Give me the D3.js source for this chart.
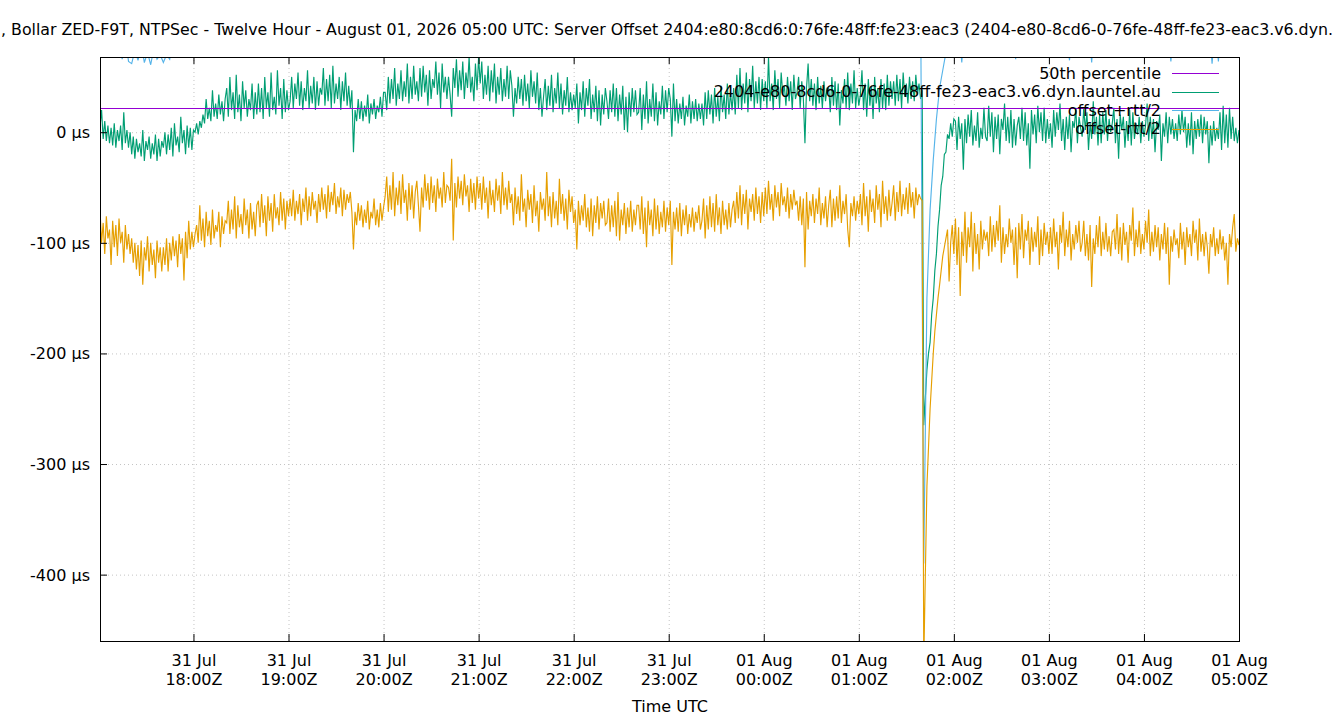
<!DOCTYPE html>
<html><head><meta charset="utf-8">
<script src="https://cdn.jsdelivr.net/npm/d3@7"></script>
<style>
body{margin:0;background:#fff}
svg{display:block}
text{font-family:"DejaVu Sans",sans-serif}
</style>
</head><body>
<svg id="chart" width="1340" height="720"></svg>
<script>
// ---------- data ----------
const titleText = ", Bollar ZED-F9T, NTPSec - Twelve Hour - August 01, 2026 05:00 UTC: Server Offset 2404:e80:8cd6:0:76fe:48ff:fe23:eac3 (2404-e80-8cd6-0-76fe-48ff-fe23-eac3.v6.dyn.";
const xAxisTitle = "Time UTC";
const seriesNames = ["50th percentile", "2404-e80-8cd6-0-76fe-48ff-fe23-eac3.v6.dyn.launtel.au", "offset+rtt/2", "offset-rtt/2"];
const xTickDates = ["2026-07-31T18:00:00Z","2026-07-31T19:00:00Z","2026-07-31T20:00:00Z","2026-07-31T21:00:00Z","2026-07-31T22:00:00Z","2026-07-31T23:00:00Z","2026-08-01T00:00:00Z","2026-08-01T01:00:00Z","2026-08-01T02:00:00Z","2026-08-01T03:00:00Z","2026-08-01T04:00:00Z","2026-08-01T05:00:00Z"];
const xTickDayLabels = ["31 Jul","31 Jul","31 Jul","31 Jul","31 Jul","31 Jul","01 Aug","01 Aug","01 Aug","01 Aug","01 Aug","01 Aug"];
const xTickHourLabels = ["18:00Z","19:00Z","20:00Z","21:00Z","22:00Z","23:00Z","00:00Z","01:00Z","02:00Z","03:00Z","04:00Z","05:00Z"];
const yTickValues = [0, -100, -200, -300, -400];
const yTickLabels = ["0 µs", "-100 µs", "-200 µs", "-300 µs", "-400 µs"];
const xDomain = ["2026-07-31T17:01:00Z", "2026-08-01T05:00:00Z"];
const yDomain = [-460, 68];
const sampleStart = "2026-07-31T17:01:00Z";
const offsetStepMinutes = 1;   // offset and offset-rtt/2 samples
const plusStepMinutes = 2;     // offset+rtt/2 samples
const percentile50 = [22];

// offset (µs), one value per minute
const offsetValues = [
 5, 20, -6, 10, -8, 6, -10, 4, -12, 8, -14, 2, -8, 6, -16, 18, -10, 2, -14, 0,
 -20, -4, -24, -6, -18, -10, -22, 2, -26, -8, -16, -4, -24, -10, -20, -2, -26, -6, -22, -8,
 -14, 0, -20, -2, -16, 4, -22, 8, -12, -4, -18, 14, -10, 2, -20, 6, -14, 4, -16, 2,
 0, 8, -2, 10, 4, 16, 8, 30, 12, 22, 10, 38, 14, 26, 12, 34, 16, 28, 10, 30,
 40, 14, 50, 20, 36, 12, 52, 18, 34, 10, 46, 22, 38, 14, 30, 20, 44, 12, 36, 16,
 44, 18, 40, 12, 50, 22, 36, 14, 54, 20, 32, 16, 56, 24, 40, 12, 48, 18, 38, 20,
 28, 50, 22, 44, 30, 54, 24, 46, 20, 40, 28, 56, 22, 42, 26, 50, 20, 46, 24, 40,
 34, 58, 24, 48, 28, 52, 22, 60, 26, 44, 30, 50, 20, 46, 28, 54, 24, 42, 22, 38,
 -18, 20, 10, 30, 12, 28, 10, 24, 14, 34, 8, 26, 16, 30, 12, 24, 18, 32, 14, 36,
 36, 20, 50, 26, 48, 30, 58, 24, 44, 30, 56, 28, 46, 32, 62, 26, 50, 30, 60, 34,
 46, 28, 58, 32, 60, 36, 52, 24, 56, 30, 48, 40, 64, 34, 54, 22, 62, 36, 50, 30,
 50, 34, 14, 58, 40, 66, 32, 56, 38, 64, 30, 54, 40, 68, 36, 50, 28, 62, 38, 68,
 44, 64, 30, 52, 34, 60, 28, 56, 36, 62, 26, 50, 34, 58, 28, 48, 32, 60, 30, 56,
 42, 14, 40, 26, 50, 30, 48, 24, 52, 28, 44, 22, 56, 32, 46, 26, 54, 20, 40, 14,
 32, 48, 20, 42, 24, 52, 18, 40, 26, 54, 22, 44, 16, 38, 24, 50, 18, 36, 20, 34,
 22, 44, 8, 36, 20, 46, 14, 40, 24, 48, 12, 34, 18, 42, 10, 38, 6, 34, 16, 40,
 28, 12, 38, 18, 44, 14, 40, 10, 34, 16, 42, 2, 32, 0, 36, 14, 40, 18, 38, 16,
 18, 40, 2, 34, 12, 46, 8, 30, 14, 44, 10, 36, 6, 28, 16, 42, 12, 38, 18, 40,
 30, -4, 44, 10, 30, 8, 26, 12, 32, 6, 24, 14, 34, 8, 28, 12, 30, 10, 26, 12,
 26, 6, 36, 12, 38, 16, 34, 8, 40, 14, 32, 10, 42, 18, 34, 12, 44, 16, 36, 20,
 40, 16, 52, 22, 58, 20, 44, 26, 54, 18, 48, 28, 60, 22, 46, 26, 50, 20, 48, 28,
 46, 22, 68, 28, 44, 20, 56, 30, 48, 22, 54, 34, 42, 24, 50, 28, 46, 20, 52, 30,
 36, 50, 22, 46, 30, -10, 40, 62, 28, 48, 24, 44, 20, 50, 26, 42, 22, 46, 28, 40,
 40, 18, 50, 24, 46, 20, 44, 6, 38, 26, 48, 22, 54, 20, 44, 26, 56, 22, 40, 24,
 34, 56, 20, 44, 14, 48, 24, 42, 12, 50, 26, 40, 18, 48, 22, 44, 20, 52, 24, 46,
 30, 46, 24, 52, 28, 48, 22, 54, 32, 44, 26, 50, 30, 46, 28, 52, 34, 44, 30, 38,
 -265, -240, -215, -200, -190, -165, -150, -125, -110, -85, -70, -48, -40, -20, -18, -2, -6, 8, -4, 12,
 10, -16, 14, -6, 8, -34, 12, -10, 16, -4, 20, -12, 6, -8, 18, -14, 4, -6, 22, -4,
 -8, 24, -4, 18, -18, 14, -6, 16, -20, 12, 2, 26, -8, 14, -10, 20, -14, 12, -12, 6,
 14, -6, 22, -8, 18, -12, 8, -33, 20, -2, 16, -10, 24, 0, 18, -8, 22, -10, 12, -6,
 8, -14, 20, -4, 18, 2, 26, -8, 12, -16, 14, -6, 16, -18, 10, 4, 22, -10, 14, 4,
 -4, 22, 2, 18, -16, 8, -6, 28, -2, 14, -12, 16, -10, 18, -2, 20, -8, 12, 0, 8,
 22, -10, 12, -24, 16, 2, 14, -14, 10, -8, 20, -12, 18, -6, 8, -2, 14, -10, 10, -4,
 6, 26, -8, 14, -6, 12, -18, 10, 2, 16, -26, 8, -4, 18, -10, 14, -2, 12, -6, 8,
 -8, 16, -2, 20, 0, 14, -14, 8, -12, 18, -20, 10, -6, 12, -4, 16, -10, 14, -2, 10,
 -28, 6, -12, 10, -8, 4, -6, 18, -16, 24, -10, 16, -14, 22, -6, 14, -8, 4, -10, 2
];

// offset+rtt/2 (µs), one value per two minutes
const plusValues = [
 96, 88, 102, 92, 84, 98, 90, 66, 86, 64,
 62, 74, 65, 80, 63, 72, 61, 76, 66, 70,
 63, 70, 66, 84, 90, 96, 88, 100, 94, 104,
 96, 104, 100, 112, 126, 108, 134, 112, 124, 110,
 136, 114, 148, 118, 130, 110, 142, 120, 126, 112,
 140, 116, 132, 110, 146, 122, 128, 114, 150, 118,
 124, 146, 120, 140, 128, 150, 122, 136, 118, 142,
 130, 154, 122, 144, 126, 148, 120, 140, 124, 134,
 92, 112, 126, 108, 120, 114, 124, 110, 118, 130,
 128, 114, 142, 124, 150, 122, 138, 126, 154, 128,
 138, 122, 150, 128, 144, 116, 140, 132, 154, 126,
 142, 128, 106, 152, 132, 158, 124, 146, 130, 160,
 136, 156, 122, 144, 128, 150, 120, 140, 126, 148,
 134, 106, 128, 122, 142, 118, 136, 124, 148, 108,
 124, 140, 116, 132, 112, 144, 120, 128, 110, 122,
 114, 134, 100, 128, 118, 138, 110, 122, 98, 126,
 120, 106, 130, 112, 136, 102, 124, 92, 116, 128,
 110, 132, 94, 122, 106, 138, 102, 118, 112, 130,
 122, 90, 136, 104, 116, 100, 112, 122, 102, 114,
 118, 98, 126, 106, 130, 110, 122, 102, 134, 112,
 132, 108, 144, 116, 150, 112, 128, 120, 140, 122,
 138, 116, 160, 122, 132, 114, 146, 126, 120, 136,
 128, 142, 118, 82, 154, 122, 136, 112, 130, 120,
 132, 110, 142, 118, 136, 98, 128, 122, 146, 116,
 126, 148, 114, 134, 104, 140, 120, 130, 112, 138,
 122, 136, 116, 144, 128, 120, 140, 124, 132, 128,
 -390, -150, -70, -25, 12, 40, 56, 72, 90, 100,
 86, 98, 63, 104, 92, 110, 88, 100, 94, 106,
 96, 108, 90, 102, 114, 94, 100, 88, 104, 66,
 98, 110, 92, 104, 96, 112, 100, 90, 106, 94,
 102, 94, 108, 98, 112, 90, 65, 100, 96, 106,
 94, 104, 98, 63, 110, 92, 100, 106, 96, 102,
 100, 92, 108, 96, 104, 112, 94, 100, 90, 106,
 98, 106, 92, 110, 100, 94, 104, 96, 64, 102,
 96, 108, 100, 92, 104, 98, 112, 94, 102, 106,
 100, 62, 96, 64, 108, 94, 102, 98, 106, 92
];

// offset-rtt/2 (µs), one value per minute
const minusValues = [
 -70, -100, -82, -110, -76, -96, -88, -120, -80, -104, -84, -112, -78, -100, -90, -118, -84, -106, -92, -110,
 -96, -118, -100, -124, -102, -130, -98, -138, -104, -116, -94, -126, -100, -120, -106, -132, -98, -118, -104, -126,
 -104, -120, -96, -126, -100, -116, -94, -112, -98, -122, -92, -110, -96, -134, -90, -114, -80, -106, -90, -104,
 -92, -84, -100, -66, -98, -78, -104, -72, -94, -80, -102, -70, -96, -84, -90, -72, -104, -76, -92, -80,
 -82, -62, -92, -70, -88, -58, -96, -66, -86, -74, -92, -60, -84, -70, -96, -64, -88, -72, -94, -66,
 -62, -86, -56, -82, -66, -94, -58, -80, -64, -90, -56, -78, -68, -84, -54, -80, -60, -88, -62, -76,
 -60, -76, -52, -80, -62, -74, -56, -84, -60, -72, -50, -80, -58, -76, -54, -70, -62, -82, -56, -72,
 -50, -70, -56, -78, -48, -72, -54, -66, -46, -74, -58, -68, -50, -76, -52, -70, -56, -64, -54, -72,
 -106, -72, -84, -64, -80, -66, -86, -70, -82, -62, -88, -72, -78, -60, -84, -70, -86, -64, -80, -68,
 -58, -40, -72, -48, -70, -36, -76, -50, -66, -44, -74, -38, -64, -52, -80, -46, -70, -48, -78, -54,
 -44, -66, -90, -50, -68, -38, -62, -46, -70, -40, -64, -48, -72, -42, -60, -50, -68, -36, -64, -48,
 -50, -62, -24, -98, -46, -68, -40, -60, -44, -66, -38, -58, -48, -72, -42, -64, -46, -70, -40, -60,
 -46, -70, -40, -64, -50, -78, -44, -66, -52, -72, -42, -62, -48, -74, -36, -66, -50, -70, -44, -64,
 -56, -84, -50, -74, -58, -80, -38, -72, -60, -86, -52, -70, -56, -82, -48, -76, -62, -90, -54, -70,
 -60, -80, -36, -76, -58, -86, -54, -78, -62, -84, -42, -74, -56, -80, -60, -88, -52, -72, -58, -82,
 -70, -106, -62, -84, -66, -80, -56, -86, -68, -90, -60, -94, -66, -82, -58, -88, -64, -78, -62, -84,
 -82, -60, -90, -66, -86, -62, -94, -54, -98, -70, -84, -64, -92, -68, -86, -62, -90, -70, -84, -66,
 -66, -88, -58, -92, -68, -104, -62, -84, -70, -94, -60, -88, -66, -92, -72, -86, -62, -90, -68, -84,
 -62, -120, -72, -88, -68, -90, -64, -94, -70, -84, -66, -92, -74, -86, -68, -90, -72, -82, -66, -88,
 -80, -60, -96, -66, -88, -58, -86, -64, -90, -56, -84, -68, -92, -62, -84, -70, -88, -64, -86, -70,
 -62, -82, -54, -78, -48, -84, -56, -74, -52, -88, -60, -72, -56, -80, -50, -74, -58, -82, -54, -76,
 -50, -74, -44, -70, -56, -80, -48, -68, -54, -76, -46, -66, -58, -72, -50, -78, -56, -70, -52, -66,
 -62, -80, -58, -84, -60, -122, -54, -88, -62, -76, -56, -82, -60, -74, -50, -84, -64, -78, -58, -86,
 -66, -52, -86, -60, -80, -58, -78, -48, -82, -62, -74, -56, -88, -104, -64, -76, -58, -80, -62, -74,
 -56, -84, -46, -76, -58, -90, -52, -72, -60, -82, -48, -70, -56, -86, -44, -74, -58, -80, -52, -76,
 -64, -48, -80, -54, -72, -44, -76, -56, -70, -50, -74, -46, -68, -54, -78, -50, -66, -56, -60, -62,
 -480, -400, -320, -285, -250, -225, -200, -180, -165, -150, -138, -125, -112, -104, -96, -88, -135, -100, -84, -110,
 -78, -120, -86, -148, -90, -112, -72, -118, -86, -104, -72, -126, -82, -110, -92, -124, -80, -106, -88, -98,
 -90, -112, -76, -108, -84, -104, -80, -98, -66, -118, -86, -110, -92, -104, -78, -100, -88, -120, -86, -132,
 -82, -106, -74, -114, -88, -98, -80, -120, -86, -108, -90, -104, -76, -120, -88, -112, -82, -102, -90, -110,
 -86, -110, -78, -104, -90, -124, -84, -100, -72, -112, -88, -104, -80, -116, -92, -106, -84, -100, -80, -108,
 -100, -80, -112, -92, -116, -84, -140, -96, -110, -84, -104, -76, -112, -90, -106, -82, -108, -94, -112, -90,
 -88, -106, -74, -110, -86, -116, -82, -102, -90, -118, -84, -98, -68, -112, -88, -104, -80, -110, -92, -106,
 -80, -100, -70, -112, -90, -108, -84, -104, -86, -116, -92, -106, -82, -110, -86, -138, -94, -108, -88, -102,
 -96, -114, -82, -106, -90, -120, -86, -104, -92, -112, -80, -100, -88, -116, -78, -108, -92, -112, -90, -104,
 -128, -92, -104, -86, -112, -96, -110, -88, -106, -94, -116, -100, -138, -92, -104, -86, -74, -108, -96, -102
];

// ---------- styles ----------
const colPct = "#9400d3", colOffset = "#009e73", colPlus = "#56b4e9", colMinus = "#e69f00";
const legendColors = [colPct, colOffset, colPlus, colMinus];
const plot = {left: 100, right: 1239, top: 57, bottom: 641};
const FONT = 16;
const LW = 1.15;

// ---------- chart ----------
const svg = d3.select("#chart");
const x = d3.scaleUtc().domain(xDomain.map(d => new Date(d))).range([plot.left, plot.right]);
const y = d3.scaleLinear().domain(yDomain).range([plot.bottom, plot.top]);
const t0 = new Date(sampleStart).getTime();
const tickDates = xTickDates.map(d => new Date(d));

// grid
const gx = svg.append("g").attr("transform", `translate(0,${plot.bottom})`)
  .call(d3.axisBottom(x).tickValues(tickDates).tickSize(-(plot.bottom - plot.top)).tickFormat(""));
gx.select(".domain").remove();
gx.selectAll("line").attr("stroke", "#c4c4c4").attr("stroke-dasharray", "1,3");
const gy = svg.append("g").attr("transform", `translate(${plot.left},0)`)
  .call(d3.axisLeft(y).tickValues(yTickValues).tickSize(-(plot.right - plot.left)).tickFormat(""));
gy.select(".domain").remove();
gy.selectAll("line").attr("stroke", "#c4c4c4").attr("stroke-dasharray", "1,3");

// clip
svg.append("clipPath").attr("id", "clip").append("rect")
  .attr("x", plot.left).attr("y", plot.top)
  .attr("width", plot.right - plot.left).attr("height", plot.bottom - plot.top);

const lineFor = step => d3.line()
  .x((d, i) => x(new Date(t0 + i * step * 60000)))
  .y(d => y(d));
const g = svg.append("g").attr("clip-path", "url(#clip)");
g.append("path").datum(offsetValues).attr("d", lineFor(offsetStepMinutes))
  .attr("fill", "none").attr("stroke", colOffset).attr("stroke-width", LW);
g.append("path").datum(plusValues).attr("d", lineFor(plusStepMinutes))
  .attr("fill", "none").attr("stroke", colPlus).attr("stroke-width", LW);
g.append("path").datum(minusValues).attr("d", lineFor(offsetStepMinutes))
  .attr("fill", "none").attr("stroke", colMinus).attr("stroke-width", LW);
g.selectAll(".pct").data(percentile50).enter().append("line")
  .attr("x1", plot.left).attr("x2", plot.right)
  .attr("y1", d => Math.round(y(d)) + 0.5).attr("y2", d => Math.round(y(d)) + 0.5)
  .attr("stroke", colPct).attr("stroke-width", 1);

// border
svg.append("rect").attr("x", plot.left + 0.5).attr("y", plot.top + 0.5)
  .attr("width", plot.right - plot.left).attr("height", plot.bottom - plot.top)
  .attr("fill", "none").attr("stroke", "#000").attr("stroke-width", 1);

// bottom axis
const ax = svg.append("g").attr("transform", `translate(0,${plot.bottom})`)
  .call(d3.axisBottom(x).tickValues(tickDates).tickSizeInner(-7).tickSizeOuter(0).tickFormat(""));
ax.select(".domain").remove();
ax.selectAll(".tick line").attr("stroke", "#000");
ax.selectAll(".tick text").remove();
ax.selectAll(".tick").each(function(d, i) {
  const t = d3.select(this).append("text").attr("text-anchor", "middle")
    .attr("font-size", FONT).attr("font-family", "DejaVu Sans").attr("fill", "#000");
  t.append("tspan").attr("x", 0).attr("y", 25).text(xTickDayLabels[i]);
  t.append("tspan").attr("x", 0).attr("y", 44).text(xTickHourLabels[i]);
});
// top axis ticks
const axt = svg.append("g").attr("transform", `translate(0,${plot.top})`)
  .call(d3.axisTop(x).tickValues(tickDates).tickSizeInner(-7).tickSizeOuter(0).tickFormat(""));
axt.select(".domain").remove();
axt.selectAll(".tick text").remove();
axt.selectAll(".tick line").attr("stroke", "#000");

// left axis
const ay = svg.append("g").attr("transform", `translate(${plot.left},0)`)
  .call(d3.axisLeft(y).tickValues(yTickValues).tickSizeInner(-7).tickSizeOuter(0).tickPadding(10)
    .tickFormat((d, i) => yTickLabels[i]));
ay.select(".domain").remove();
ay.selectAll(".tick line").attr("stroke", "#000");
ay.selectAll(".tick text").attr("font-size", FONT).attr("font-family", "DejaVu Sans").attr("fill", "#000").attr("dy", "5.5");

// titles
svg.append("text").attr("x", 1).attr("y", 35).attr("font-size", 15.8).attr("fill", "#000").text(titleText);
svg.append("text").attr("x", 670).attr("y", 712).attr("text-anchor", "middle").attr("font-size", FONT).attr("fill", "#000").text(xAxisTitle);

// legend
const lg = svg.append("g");
seriesNames.forEach((name, i) => {
  const cy = 73 + i * 18.6;
  lg.append("text").attr("x", 1161).attr("y", cy + 5.5).attr("text-anchor", "end")
    .attr("font-size", FONT).attr("fill", "#000").text(name);
  lg.append("line").attr("x1", 1172).attr("x2", 1219)
    .attr("y1", Math.round(cy) + 0.5).attr("y2", Math.round(cy) + 0.5)
    .attr("stroke", legendColors[i]).attr("stroke-width", 1);
});
</script>
</body></html>
